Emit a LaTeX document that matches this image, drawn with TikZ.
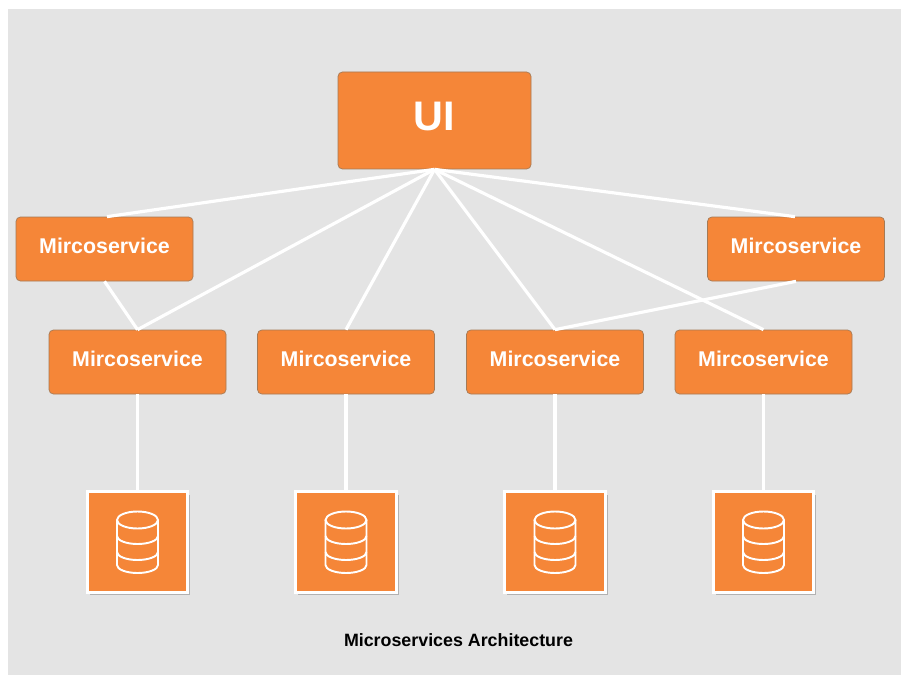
\documentclass[tikz,border=0pt]{standalone}
\usepackage{fontspec}
\setmainfont{Liberation Sans}
\usetikzlibrary{shadows}
\definecolor{panelgrey}{HTML}{E4E4E4}
\definecolor{boxorange}{HTML}{F58638}
\definecolor{boxedge}{HTML}{A57A55}
\tikzset{
	service/.style={draw=boxedge, line width=.4pt, fill=boxorange, rounded corners=2.5pt, minimum width=3.54cm, minimum height=1.28cm, text=white, text height=9pt, text depth=4.3pt, font=\bfseries\fontsize{12.15}{14}\selectfont},
	uibox/.style={service, minimum width=3.86cm, minimum height=1.94cm, text height=17pt, text depth=5.6pt, font=\bfseries\fontsize{23.5}{28}\selectfont},
	store/.style={draw=white, line width=1.8pt, fill=boxorange, minimum size=2.01cm, drop shadow={fill=black, shadow xshift=1.3pt, shadow yshift=-1.6pt, opacity=.22}},
	link/.style={draw=white, line width=1.8pt},
	dbicon/.pic={
		\draw[white, line width=1.1pt] (-.41,.44) -- (-.41,-.46) arc (180:360:.41 and .16) -- (.41,.44);
		\draw[white, line width=1.1pt] (0,.44) ellipse (.41 and .17);
		\draw[white, line width=1.1pt] (-.41,.12) arc (180:360:.41 and .16);
		\draw[white, line width=1.1pt] (-.41,-.2) arc (180:360:.41 and .16);
	}
}
\begin{document}
\begin{tikzpicture}
	\useasboundingbox (0,0) rectangle (18.02,13.5);
	\fill[white] (0,0) rectangle (18.02,13.5);
	\fill[panelgrey] (.16,0) rectangle (18.02,13.32);

	\node[uibox] (ui) at (8.69,11.09) {UI};
	\node[service] (svcleft) at (2.09,8.52) {Mircoservice};
	\node[service] (svcright) at (15.92,8.52) {Mircoservice};

	\node[service] (svca) at (2.75,6.26) {Mircoservice};
	\node[service] (svcb) at (6.92,6.26) {Mircoservice};
	\node[service] (svcc) at (11.1,6.26) {Mircoservice};
	\node[service] (svcd) at (15.27,6.26) {Mircoservice};

	\node[store] (dba) at (2.75,2.66) {};
	\node[store] (dbb) at (6.92,2.66) {};
	\node[store] (dbc) at (11.1,2.66) {};
	\node[store] (dbd) at (15.27,2.66) {};
	\pic at (dba) {dbicon};
	\pic at (dbb) {dbicon};
	\pic at (dbc) {dbicon};
	\pic at (dbd) {dbicon};

	\path[link] (ui.south) -- ([xshift=1.4pt]svcleft.north);
	\path[link] (ui.south) -- ([xshift=-.6pt]svcright.north);
	\path[link] (ui.south) -- (svca.north);
	\path[link] (ui.south) -- (svcb.north);
	\path[link] (ui.south) -- (svcc.north);
	\path[link] (ui.south) -- (svcd.north);
	\path[link] (svcleft.south) -- (svca.north);
	\path[link] (svcright.south) -- (svcc.north);

	\path[link] (svca.south) -- (dba.north);
	\path[link] (svcb.south) -- (dbb.north);
	\path[link] (svcc.south) -- (dbc.north);
	\path[link] (svcd.south) -- (dbd.north);

	\node[font=\bfseries\fontsize{10.15}{12}\selectfont] (caption) at (9.17,.7) {Microservices Architecture};
\end{tikzpicture}
\end{document}
